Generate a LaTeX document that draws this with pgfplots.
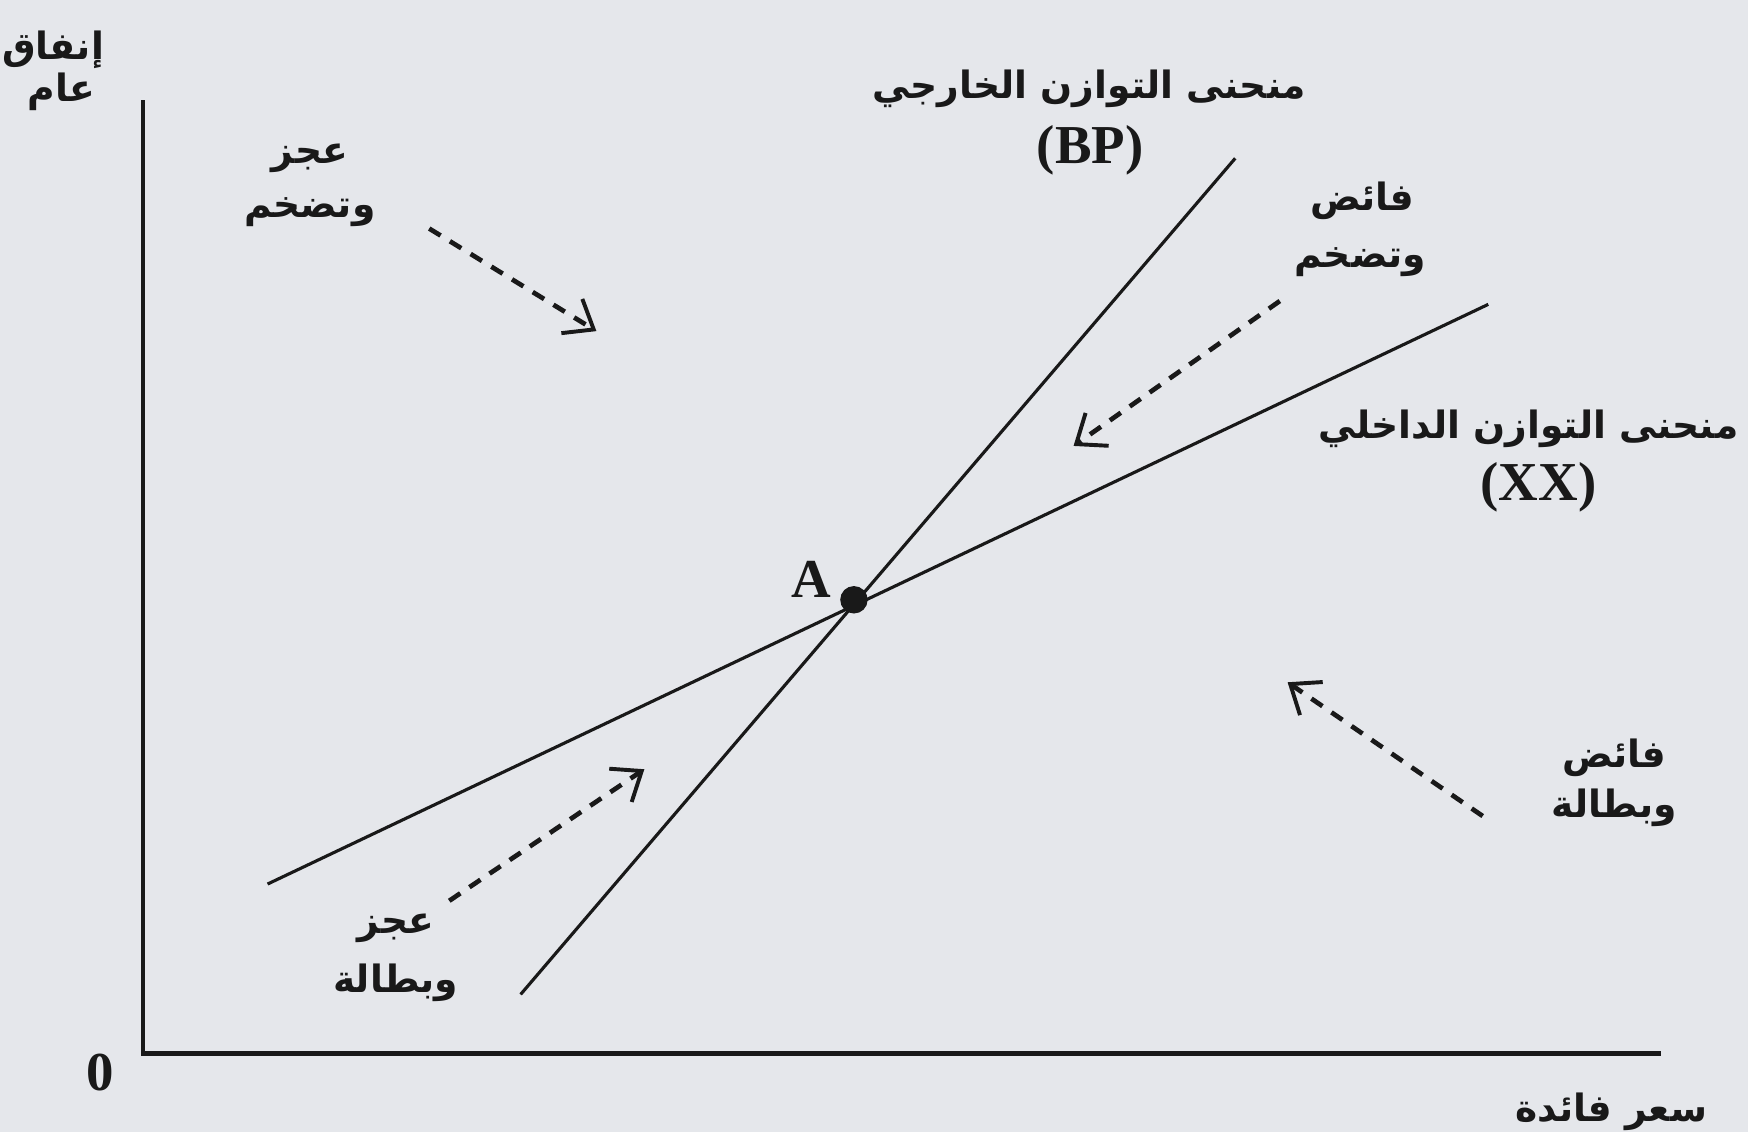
\documentclass[border=0pt]{standalone}
\usepackage{fontspec}
\setmainfont{Liberation Serif}
\newfontfamily\arabicfont[Script=Arabic]{DejaVu Sans}
\TeXXeTstate=1
\usepackage{pgfplots}
\pgfplotsset{compat=1.18}
\usetikzlibrary{arrows.meta}
\definecolor{papier}{RGB}{229,231,235}
\definecolor{encre}{RGB}{25,25,25}
\newcommand{\ar}[1]{{\arabicfont\bfseries\beginR #1\endR}}
\tikzset{
  lab/.style={font=\fontsize{9.6}{11}\selectfont, text=encre, inner sep=0pt},
  lat/.style={font=\fontsize{14}{16}\selectfont\bfseries, text=encre, inner sep=0pt},
  fleche/.style={encre, line width=1.2pt, dash pattern=on 3.4pt off 2.8pt,
    -{Straight Barb[length=2.3mm,width=3.6mm,line width=1pt]}}
}

\begin{document}
\begin{tikzpicture}
\begin{axis}[
  width=15.68cm, height=10.15cm, scale only axis,
  xmin=0, xmax=1568, ymin=0, ymax=1015, y dir=reverse,
  axis line style={draw=none}, ticks=none,
  axis background/.style={fill=papier},
  clip=false,
]
% axes
\addplot[encre, line width=1.1pt, no markers] coordinates {(128,90) (128,945) (1490,945)};
% courbe BP (equilibre externe)
\addplot[encre, line width=0.8pt, no markers] coordinates {(467,892) (1108,142)};
% courbe XX (equilibre interne)
\addplot[encre, line width=0.8pt, no markers] coordinates {(240,793) (1335,273)};
% point A
\addplot[only marks, mark=*, mark size=3.3pt, encre] coordinates {(766,538)};

% fleches en tirets
\addplot[fleche] coordinates {(385,205) (535,297)};
\addplot[fleche] coordinates {(1148,270) (963,400)};
\addplot[fleche] coordinates {(1330,732) (1155,612)};
\addplot[fleche] coordinates {(403,808) (578,690)};

% textes
\node[lab, anchor=east] at (axis cs:94,45) {\ar{إنفاق}};
\node[lab, anchor=east] at (axis cs:86,82) {\ar{عام}};
\node[lat] at (axis cs:90,962) {0};
\node[lab, anchor=east] at (axis cs:1532,997) {\ar{سعر فائدة}};

\node[lab] at (axis cs:977,80) {\ar{منحنى التوازن الخارجي}};
\node[lat] at (axis cs:978,135) {(BP)};
\node[lab, anchor=east] at (axis cs:1560,385) {\ar{منحنى التوازن الداخلي}};
\node[lat] at (axis cs:1380,437) {(XX)};

\node[lab] at (axis cs:278,142) {\ar{عجز}};
\node[lab] at (axis cs:278,190) {\ar{وتضخم}};
\node[lab] at (axis cs:1222,180) {\ar{فائض}};
\node[lab] at (axis cs:1220,235) {\ar{وتضخم}};
\node[lab] at (axis cs:1448,680) {\ar{فائض}};
\node[lab] at (axis cs:1448,725) {\ar{وبطالة}};
\node[lab] at (axis cs:355,833) {\ar{عجز}};
\node[lab] at (axis cs:355,882) {\ar{وبطالة}};
\node[lat] at (axis cs:728,520) {A};
\end{axis}
\pgfresetboundingbox
\path[use as bounding box] (current axis.south west) rectangle (current axis.north east);
\end{tikzpicture}
\end{document}
